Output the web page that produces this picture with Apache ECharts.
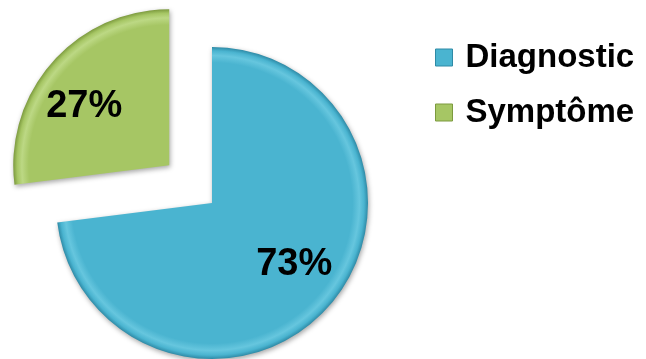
<!DOCTYPE html>
<html>
<head>
<meta charset="utf-8">
<script src="https://cdn.jsdelivr.net/npm/echarts@6/dist/echarts.min.js"></script>
<style>
  html, body { margin: 0; padding: 0; background: #ffffff; }
  #chart { width: 646px; height: 359px; }
</style>
</head>
<body>
<div id="chart"></div>
<script>
// Share of cases by type
const categories = ['Diagnostic', 'Symptôme'];
const shares = [73, 27];
const sliceColors = ['#4AB4D0', '#A6C664'];
const edgeColors = ['#2E8AA6', '#7C9A3E'];
const rimColors = ['#66C6DE', '#BCD884'];

const CX = 212, CY = 203, R = 156;

function sliceFill(i) {
  return {
    type: 'radial', x: CX, y: CY, r: R, global: true,
    colorStops: [
      { offset: 0, color: sliceColors[i] },
      { offset: 0.9, color: sliceColors[i] },
      { offset: 0.945, color: rimColors[i] },
      { offset: 0.975, color: sliceColors[i] },
      { offset: 1, color: edgeColors[i] }
    ]
  };
}

const pieData = categories.map((name, i) => ({
  name: name,
  value: shares[i],
  selected: i === 1,
  itemStyle: { color: sliceFill(i) }
}));

const labelData = categories.map((name, i) => ({
  name: name,
  value: shares[i],
  selected: i === 1
}));

const chart = echarts.init(document.getElementById('chart'), null, { renderer: 'canvas' });
chart.setOption({
  animation: false,
  backgroundColor: '#ffffff',
  legend: {
    orient: 'vertical',
    left: 430,
    top: 36,
    itemWidth: 17,
    itemHeight: 17,
    itemGap: 22,
    icon: 'rect',
    data: categories.map((name, i) => ({
      name: name,
      itemStyle: { color: sliceColors[i], borderColor: edgeColors[i], borderWidth: 1 }
    })),
    textStyle: {
      fontFamily: 'Liberation Sans, Arial, sans-serif',
      fontWeight: 'bold',
      fontSize: 33,
      lineHeight: 33,
      color: '#000000',
      padding: [0, 0, 0, 8]
    },
    selectedMode: false
  },
  series: [
    {
      type: 'pie',
      center: [CX, CY],
      radius: [0, R],
      startAngle: 90,
      clockwise: true,
      selectedMode: 'multiple',
      selectedOffset: 57,
      silent: true,
      label: { show: false },
      labelLine: { show: false },
      itemStyle: {
        shadowBlur: 5,
        shadowColor: 'rgba(0,0,0,0.35)',
        shadowOffsetX: 1,
        shadowOffsetY: 2
      },
      emphasis: { disabled: true },
      data: pieData
    },
    {
      // transparent ring used only to place the percentage labels
      type: 'pie',
      center: [CX, CY],
      radius: [0, 200],
      startAngle: 94.4,
      clockwise: true,
      selectedMode: 'multiple',
      selectedOffset: 57,
      silent: true,
      itemStyle: { color: 'rgba(0,0,0,0)' },
      label: {
        show: true,
        position: 'inside',
        formatter: '{c}%',
        fontFamily: 'Liberation Sans, Arial, sans-serif',
        fontWeight: 'bold',
        fontSize: 38,
        color: '#000000'
      },
      labelLine: { show: false },
      emphasis: { disabled: true },
      data: labelData
    }
  ]
});
</script>
</body>
</html>
